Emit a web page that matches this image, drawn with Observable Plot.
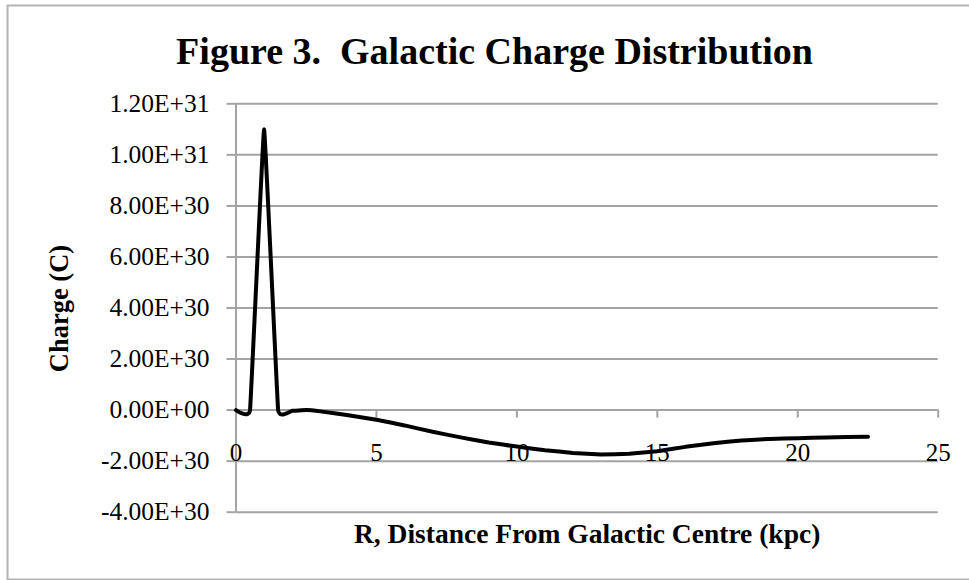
<!DOCTYPE html>
<html>
<head>
<meta charset="utf-8">
<script src="https://cdn.jsdelivr.net/npm/d3@7"></script>
<script src="https://cdn.jsdelivr.net/npm/@observablehq/plot@0.6"></script>
<style>
  html, body { margin: 0; padding: 0; background: white; }
  #chart { width: 969px; height: 580px; overflow: hidden; }
</style>
</head>
<body>
<div id="chart"></div>
<script>
// ---- data ----
const title = "Figure 3.  Galactic Charge Distribution";
const xLabel = "R, Distance From Galactic Centre (kpc)";
const yLabel = "Charge (C)";

// radius (kpc)
const radius = [0, 0.5, 1, 1.5, 2, 2.5, 3, 4, 5, 6, 7, 8, 9, 10, 11, 12, 13, 14, 15, 16, 17, 18, 19, 20, 21, 22.5];
// charge (C)
const charge = [0, 0, 1.1e31, 0, -0.03e30, 0, -0.05e30, -0.2e30, -0.38e30, -0.6e30, -0.85e30, -1.07e30, -1.27e30, -1.43e30,
                -1.57e30, -1.68e30, -1.74e30, -1.71e30, -1.61e30, -1.44e30, -1.3e30, -1.19e30, -1.13e30, -1.1e30, -1.07e30, -1.04e30];

const xTicks = [0, 5, 10, 15, 20, 25];
const yTicks = [-4e30, -2e30, 0, 2e30, 4e30, 6e30, 8e30, 1e31, 1.2e31];
const yTickLabels = ["-4.00E+30", "-2.00E+30", "0.00E+00", "2.00E+30", "4.00E+30", "6.00E+30", "8.00E+30", "1.00E+31", "1.20E+31"];

// ---- build ----
const table = radius.map((r, i) => ({r, q: charge[i]}));
const gray = "#a3a3a3";
const W = 969, H = 580;
const mL = 235.5, mR = 31.3, mT = 103.3, mB = 68.3;
const pxPerUnitY = (H - mT - mB) / (1.2e31 - (-4e30));
const tickLen = 8 / pxPerUnitY;
const frameCx = mL + (W - mL - mR) / 2;
const frameCy = mT + (H - mT - mB) / 2;

const chart = Plot.plot({
  width: W,
  height: H,
  marginLeft: mL,
  marginRight: mR,
  marginTop: mT,
  marginBottom: mB,
  style: {fontFamily: "'Liberation Serif', serif", background: "white", color: "black", overflow: "visible"},
  x: {domain: [0, 25], axis: null},
  y: {domain: [-4e30, 1.2e31]},
  marks: [
    Plot.frame({stroke: "#b4b4b4", strokeWidth: 2, insetLeft: -228.5, insetTop: -98.3, insetBottom: -67.3, insetRight: -60}),
    Plot.gridY(yTicks, {stroke: gray, strokeOpacity: 1, strokeWidth: 2}),
    Plot.axisY({ticks: yTicks, tickFormat: d => yTickLabels[yTicks.indexOf(d)], tickSize: 9, tickPadding: 17.5,
                stroke: gray, strokeWidth: 2, fontSize: 25.5, label: null}),
    Plot.ruleX([0], {stroke: gray, strokeWidth: 2}),
    Plot.ruleX(xTicks, {x: d => d, y1: 0, y2: -tickLen, stroke: gray, strokeWidth: 2}),
    Plot.line(table, {x: "r", y: "q", stroke: "black", strokeWidth: 4, curve: "cardinal", tension: 0.8, strokeLinecap: "round", strokeLinejoin: "round"}),
    Plot.text(xTicks, {x: d => d, y: 0, dy: 43, text: d => String(d), fontSize: 25, lineAnchor: "middle", fill: "black"}),
    Plot.text([title], {frameAnchor: "top", textAnchor: "middle", dx: 494 - frameCx, dy: 63 - mT, lineAnchor: "bottom", fontSize: 38, fontWeight: "bold", fill: "black"}),
    Plot.text([xLabel], {frameAnchor: "bottom", textAnchor: "middle", dy: 22.3, lineAnchor: "middle", fontSize: 27.5, fontWeight: "bold", fill: "black"}),
    Plot.text([yLabel], {frameAnchor: "left", textAnchor: "middle", dx: 59 - mL, dy: 308 - frameCy, rotate: -90, lineAnchor: "middle", fontSize: 26.5, fontWeight: "bold", fill: "black"})
  ]
});
chart.querySelectorAll("text").forEach(t => { t.setAttribute("xml:space", "preserve"); t.style.whiteSpace = "pre"; });
document.getElementById("chart").appendChild(chart);
</script>
</body>
</html>
